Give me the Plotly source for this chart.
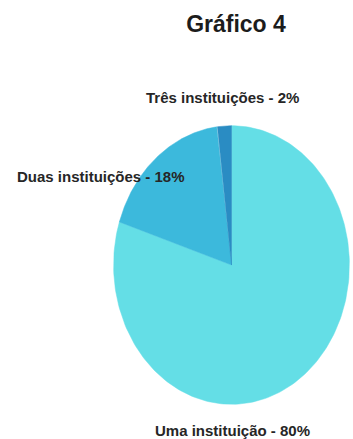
import numpy as np
import plotly.graph_objects as go

# Number of institutions attended
categories = ["Uma instituição", "Duas instituições", "Três instituições"]
shares = [80, 18, 2]
slice_colors = ["#64DEE6", "#3CB9DC", "#2A8CC3"]

W, H = 353, 439
FONT = "Liberation Sans, Arial, sans-serif"

fig = go.Figure()

# Slices drawn clockwise from 12 o'clock on a [-1, 1] x [-1, 1] frame
total = float(sum(shares))
cum = np.concatenate([[0.0], np.cumsum(shares)]) / total
for name, v, c, a0, a1 in zip(categories, shares, slice_colors, cum[:-1], cum[1:]):
    t = np.linspace(np.pi / 2 - 2 * np.pi * a0, np.pi / 2 - 2 * np.pi * a1, 200)
    xs = np.concatenate([[0.0], np.cos(t), [0.0]])
    ys = np.concatenate([[0.0], np.sin(t), [0.0]])
    fig.add_trace(go.Scatter(
        x=xs, y=ys, mode="lines", fill="toself", fillcolor=c,
        line=dict(color=c, width=0.5), name=name,
        hovertemplate=f"{name}: {v}%<extra></extra>",
    ))

# Slice labels
label_pos = {
    "Três instituições": (222, 97),
    "Duas instituições": (101, 177),
    "Uma instituição": (232, 430),
}
for name, v in zip(categories, shares):
    px, py = label_pos[name]
    fig.add_annotation(
        text=f"{name} - {v}%", x=px / W, y=1 - py / H,
        xref="paper", yref="paper", xanchor="center", yanchor="middle",
        showarrow=False, font=dict(family=FONT, size=15, color="#262626", weight="bold"),
    )

fig.update_layout(
    width=W, height=H,
    margin=dict(l=0, r=0, t=0, b=0),
    paper_bgcolor="white", plot_bgcolor="white",
    showlegend=False,
    title=dict(
        text="<b>Gráfico 4</b>", x=236 / W, y=1 - 24 / H,
        xanchor="center", yanchor="middle",
        font=dict(family=FONT, size=23, color="#1c1c1c"),
    ),
    xaxis=dict(domain=[113 / W, 350 / W], range=[-1.005, 1.005], visible=False, fixedrange=True),
    yaxis=dict(domain=[(H - 405) / H, (H - 125) / H], range=[-1.005, 1.005], visible=False, fixedrange=True),
)

fig.write_html("out.html")
